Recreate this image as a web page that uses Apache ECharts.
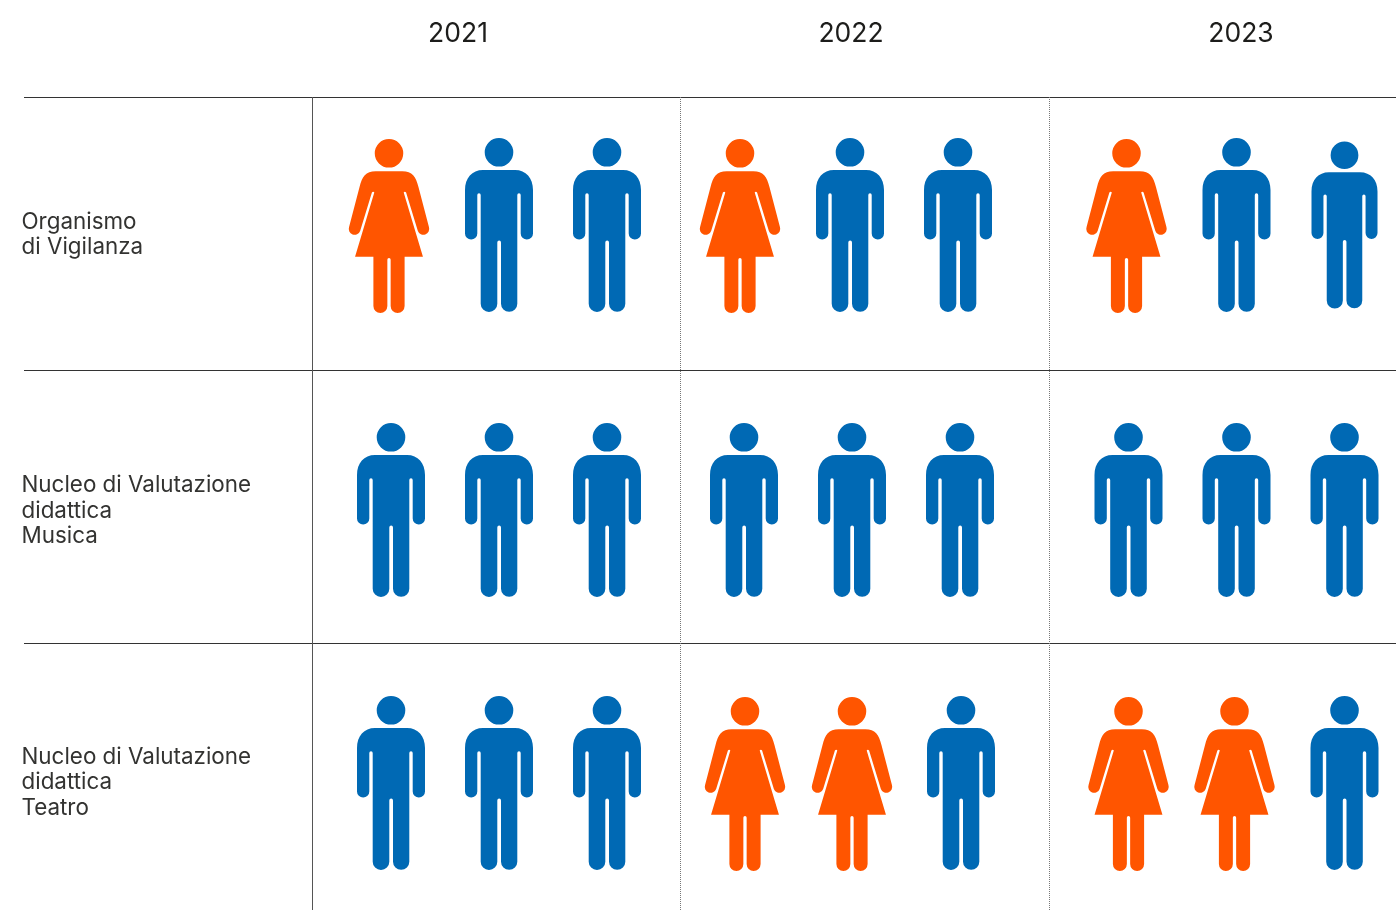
<!DOCTYPE html>
<html><head><meta charset="utf-8">
<style>html,body{margin:0;padding:0;background:#fff}#c{width:1396px;height:910px}</style>
<script src="https://cdn.jsdelivr.net/npm/echarts@6/dist/echarts.min.js"></script>
</head><body><div id="c"></div>
<script>
// ---- data ----
const years = ['2021', '2022', '2023'];
const roles = ['Organismo\ndi Vigilanza', 'Nucleo di Valutazione\ndidattica\nMusica', 'Nucleo di Valutazione\ndidattica\nTeatro'];
const organismo = [['F','M','M'], ['F','M','M'], ['F','M','M']];
const nucleoMusica = [['M','M','M'], ['M','M','M'], ['M','M','M']];
const nucleoTeatro = [['M','M','M'], ['F','F','M'], ['F','F','M']];
const people = [organismo, nucleoMusica, nucleoTeatro];

// ---- layout & style ----
const BLUE = '#0069b4', ORANGE = '#ff5500', FONT = 'Inter, "Open Sans", sans-serif';
const TOP = 97, ROW_H = 273;
const yearGridLeft = [337, 690, 1074.5];
const yearLabelX = [458, 851, 1241];
const dxNudge = [
  [[-2,0,0],[-4,-2,-2],[-2,0,0]],
  [[0,0,0],[0,0,0],[0,0,0]],
  [[0,0,0],[1,0,1],[0,-2,0]]
];
const dyNudge = [-8.5, 3.5, 3.5];
const labelDy = [1.5, 4.5, 3];
const MAN = 'path://M34,0A14.3,14.3,0,1,1,34,28.6A14.3,14.3,0,1,1,34,0ZM18,32L50,32C61,32,68,40,68,52L68,95.5A6.15,6.15,0,0,1,55.7,95.5L55.7,57A1.7,1.7,0,0,0,52.3,57L52.3,165.8A8.15,8.15,0,0,1,36,165.8L36,104.5A1.85,1.85,0,0,0,32.3,104.5L32.3,165.8A8.3,8.3,0,0,1,15.7,165.8L15.7,57A1.7,1.7,0,0,0,12.3,57L12.3,95.5A6.15,6.15,0,0,1,0,95.5L0,52C0,40,7,32,18,32Z';
const WOMAN = 'path://M40.35,0A14.3,14.3,0,1,1,40.35,28.6A14.3,14.3,0,1,1,40.35,0ZM27,32.3L53.7,32.3C63.7,32.3,67.5,38,69.9,48L80.4,88A5.9,5.9,0,0,1,69.3,92L57.5,53.5C57,52.6,55.4,52.6,55.1,53.5L74.4,117.7L56,117.7L56,167A7,7,0,0,1,42,167L42,120.7A1.65,1.65,0,0,0,38.7,120.7L38.7,167A7,7,0,0,1,24.7,167L24.7,117.7L6.3,117.7L25.6,53.5C25.3,52.6,23.7,52.6,23.2,53.5L11.4,92A5.9,5.9,0,0,1,0.3,88L10.8,48C13.2,38,17,32.3,27,32.3Z';

const rowIdx = roles.map((_, i) => i);
const slots = ['a', 'b', 'c'];

// frame grid (index 0): rules and headers; one grid per year for the figures
const grid = [{ left: 24, top: TOP, width: 1372, height: ROW_H * 3, outerBoundsMode: 'none' }];
const xAxis = [{
  gridIndex: 0, type: 'value', min: 24, max: 1396, position: 'top',
  axisLine: { show: false }, axisTick: { show: false }, splitLine: { show: false },
  axisLabel: {
    show: true, margin: 49.5, fontFamily: FONT, fontSize: 26.5, fontWeight: 400, color: '#1d1d1b',
    customValues: yearLabelX, formatter: v => years[yearLabelX.indexOf(v)] || ''
  }
}];
const yAxis = [{
  gridIndex: 0, type: 'category', inverse: true, data: rowIdx.map(String),
  axisLine: { show: false }, axisTick: { show: false }, axisLabel: { show: false },
  splitLine: { show: true, lineStyle: { color: '#333', width: 1 } }
}];
const series = [{
  type: 'scatter', xAxisIndex: 0, yAxisIndex: 0, silent: true, symbolSize: 1,
  itemStyle: { color: 'transparent', opacity: 1 },
  data: roles.map((r, i) => ({
    value: [24, i],
    label: { show: true, position: 'right', distance: 0, offset: [-3, labelDy[i]], formatter: r,
      fontFamily: FONT, fontSize: 22.4, fontWeight: 400, lineHeight: 25.5, color: '#333331', align: 'left' }
  })),
  markLine: {
    silent: true, symbol: 'none', label: { show: false },
    data: [
      { xAxis: 312, lineStyle: { color: '#555', width: 1, type: 'solid' } },
      { xAxis: 680.5, lineStyle: { color: '#777', width: 1, type: [1, 1] } },
      { xAxis: 1049, lineStyle: { color: '#777', width: 1, type: [1, 1] } }
    ]
  }
}];

years.forEach((year, y) => {
  const gi = y + 1;
  grid.push({ left: yearGridLeft[y], top: TOP, width: 324, height: ROW_H * 3, outerBoundsMode: 'none' });
  xAxis.push({ gridIndex: gi, type: 'category', data: slots, show: false });
  yAxis.push({ gridIndex: gi, type: 'category', inverse: true, data: rowIdx.map(String), show: false });
  const data = [];
  people.forEach((row, r) => {
    row[y].forEach((g, s) => {
      const woman = g === 'F';
      const small = r === 0 && y === 2 && s === 2;
      const w = woman ? 80.5 : (small ? 66 : 68);
      const h = small ? 167 : 174;
      data.push({
        value: [s, r],
        symbol: woman ? WOMAN : MAN,
        symbolSize: [w, h],
        symbolOffset: [dxNudge[r][y][s], dyNudge[r] + (woman ? 1 : 0)],
        itemStyle: { color: woman ? ORANGE : BLUE, opacity: 1 }
      });
    });
  });
  series.push({ type: 'scatter', name: year, xAxisIndex: gi, yAxisIndex: gi, silent: true, data });
});

const chart = echarts.init(document.getElementById('c'), null, { renderer: 'canvas' });
chart.setOption({ animation: false, backgroundColor: '#fff', grid, xAxis, yAxis, series });
</script></body></html>
